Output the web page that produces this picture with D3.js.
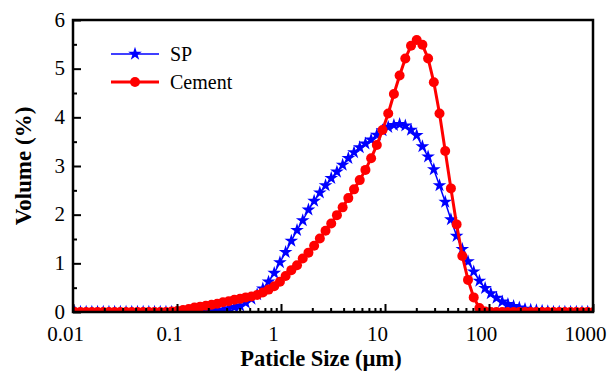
<!DOCTYPE html>
<html>
<head>
<meta charset="utf-8">
<script src="https://cdn.jsdelivr.net/npm/d3@7"></script>
<style>
  body { margin: 0; background: #fff; }
  svg { display: block; }
  text { font-family: "Liberation Serif", "Times New Roman", serif; fill: #000; }
</style>
</head>
<body>
<svg id="chart" width="607" height="376"></svg>
<script>
// particle size classes (µm)
const sizes = [
  0.0104, 0.0118, 0.01338, 0.01518, 0.01722, 0.01954, 0.02217, 0.02515, 0.02853, 0.03237,
  0.03673, 0.04167, 0.04727, 0.05363, 0.06084, 0.06902, 0.0783, 0.08884, 0.1008, 0.1143,
  0.1297, 0.1472, 0.167, 0.1894, 0.2149, 0.2438, 0.2766, 0.3138, 0.356, 0.4039,
  0.4581, 0.5197, 0.5896, 0.6689, 0.7589, 0.861, 0.9768, 1.108, 1.257, 1.426,
  1.618, 1.836, 2.083, 2.363, 2.681, 3.041, 3.45, 3.914, 4.441, 5.038,
  5.715, 6.484, 7.356, 8.345, 9.467, 10.74, 12.18, 13.82, 15.68, 17.79,
  20.18, 22.89, 25.97, 29.47, 33.43, 37.93, 43.03, 48.82, 55.38, 62.83,
  71.29, 80.87, 91.75, 104.1, 118.1, 134.0, 152.0, 172.4, 195.6, 221.9,
  251.8, 285.6, 324.1, 367.6, 417.1, 473.2, 536.8, 609.0, 690.9, 783.8,
  889.2, 1009
];

// volume (%) for SP
const spVolume = [
  0, 0, 0, 0, 0, 0, 0, 0, 0, 0,
  0, 0, 0, 0, 0, 0, 0, 0, 0, 0,
  0, 0, 0.01, 0.02, 0.03, 0.03, 0.04, 0.07, 0.10, 0.13,
  0.19, 0.27, 0.36, 0.48, 0.62, 0.80, 1.02, 1.23, 1.46, 1.68,
  1.88, 2.10, 2.28, 2.45, 2.60, 2.75, 2.88, 3.02, 3.16, 3.28,
  3.38, 3.46, 3.54, 3.64, 3.73, 3.80, 3.84, 3.86, 3.83, 3.74,
  3.63, 3.40, 3.19, 2.93, 2.60, 2.26, 1.90, 1.56, 1.29, 1.04,
  0.83, 0.64, 0.49, 0.38, 0.29, 0.21, 0.16, 0.12, 0.09, 0.06,
  0.04, 0.03, 0.02, 0.01, 0, 0, 0, 0, 0, 0,
  0, 0
];

// volume (%) for Cement
const cementVolume = [
  0, 0, 0, 0, 0, 0, 0, 0, 0, 0,
  0, 0, 0, 0, 0, 0, 0, 0.01, 0.02, 0.04,
  0.06, 0.09, 0.11, 0.13, 0.15, 0.17, 0.20, 0.22, 0.25, 0.27,
  0.30, 0.32, 0.35, 0.40, 0.46, 0.53, 0.62, 0.74, 0.86, 0.96,
  1.10, 1.22, 1.36, 1.51, 1.67, 1.82, 1.99, 2.15, 2.34, 2.52,
  2.71, 2.92, 3.16, 3.43, 3.74, 4.08, 4.48, 4.86, 5.21, 5.47,
  5.59, 5.49, 5.21, 4.72, 4.08, 3.31, 2.54, 1.80, 1.15, 0.66,
  0.30, 0.08, 0.01, 0, 0, 0, 0, 0, 0, 0,
  0, 0, 0, 0, 0, 0, 0, 0, 0, 0,
  0, 0
];

const xMajor = [0.01, 0.1, 1, 10, 100, 1000];
const xTickLabels = ["0.01", "0.1", "1", "10", "100", "1000"];
const yMajor = [0, 1, 2, 3, 4, 5, 6];
const yMinor = [0.5, 1.5, 2.5, 3.5, 4.5, 5.5];

const plotLeft = 73, plotRight = 593, plotTop = 20, plotBottom = 312;

const svg = d3.select("#chart");

const x = d3.scaleLog().domain([0.01, 1000]).range([plotLeft, plotRight]);
const y = d3.scaleLinear().domain([0, 6]).range([plotBottom, plotTop]);

// minor ticks for log axis (2..9 in every decade)
const xMinor = [];
for (let k = 0; k < xMajor.length - 1; k++) {
    for (let m = 2; m <= 9; m++) xMinor.push(xMajor[k] * m);
}

svg.append("clipPath").attr("id", "plotclip")
    .append("rect")
    .attr("x", plotLeft).attr("y", plotTop)
    .attr("width", plotRight - plotLeft).attr("height", plotBottom - plotTop);

const plot = svg.append("g").attr("clip-path", "url(#plotclip)");

const spData = sizes.map((d, i) => ({ d: d, v: spVolume[i] }));
const cementData = sizes.map((d, i) => ({ d: d, v: cementVolume[i] }));

const line = d3.line().x(p => x(p.d)).y(p => y(p.v));
const star = d3.symbol().type(d3.symbolStar).size(58);

// SP series
plot.append("path")
    .datum(spData)
    .attr("fill", "none")
    .attr("stroke", "#0000ff")
    .attr("stroke-width", 1.5)
    .attr("d", line);

plot.selectAll(".star")
    .data(spData)
    .enter()
    .append("path")
    .attr("class", "star")
    .attr("transform", p => "translate(" + x(p.d) + "," + y(p.v) + ")")
    .attr("d", star)
    .attr("fill", "#0000ff");

// Cement series
plot.append("path")
    .datum(cementData)
    .attr("fill", "none")
    .attr("stroke", "#ff0000")
    .attr("stroke-width", 3)
    .attr("d", line);

plot.selectAll(".dot")
    .data(cementData)
    .enter()
    .append("circle")
    .attr("class", "dot")
    .attr("cx", p => x(p.d))
    .attr("cy", p => y(p.v))
    .attr("r", 5)
    .attr("fill", "#ff0000");

// axes: ticks point inward
const tickStyle = g => {
    g.select(".domain").remove();
    g.selectAll("line").attr("stroke", "#000").attr("stroke-width", 2);
};

svg.append("g")
    .attr("transform", "translate(0," + plotBottom + ")")
    .call(d3.axisBottom(x).tickValues(xMajor).tickSize(-8).tickFormat(""))
    .call(tickStyle);

svg.append("g")
    .attr("transform", "translate(0," + plotBottom + ")")
    .call(d3.axisBottom(x).tickValues(xMinor).tickSize(-4).tickFormat(""))
    .call(tickStyle);

svg.append("g")
    .attr("transform", "translate(" + plotLeft + ",0)")
    .call(d3.axisLeft(y).tickValues(yMajor).tickSize(-8).tickFormat(""))
    .call(tickStyle);

svg.append("g")
    .attr("transform", "translate(" + plotLeft + ",0)")
    .call(d3.axisLeft(y).tickValues(yMinor).tickSize(-4).tickFormat(""))
    .call(tickStyle);

// tick labels
const xLab = svg.append("g")
    .attr("transform", "translate(0," + plotBottom + ")")
    .call(d3.axisBottom(x).tickValues(xMajor).tickSize(0).tickPadding(14)
        .tickFormat((d, i) => xTickLabels[i]));
xLab.select(".domain").remove();
xLab.selectAll("text")
    .attr("font-size", 21)
    .attr("dx", -8)
    .style("font-family", "Liberation Serif");

const yLab = svg.append("g")
    .attr("transform", "translate(" + plotLeft + ",0)")
    .call(d3.axisLeft(y).tickValues(yMajor).tickSize(0).tickPadding(8)
        .tickFormat(d3.format("d")));
yLab.select(".domain").remove();
yLab.selectAll("text")
    .attr("font-size", 21)
    .attr("dy", "0.3em")
    .style("font-family", "Liberation Serif");

// frame
svg.append("rect")
    .attr("x", plotLeft).attr("y", plotTop)
    .attr("width", plotRight - plotLeft).attr("height", plotBottom - plotTop)
    .attr("fill", "none")
    .attr("stroke", "#000")
    .attr("stroke-width", 2.5);

// axis titles
svg.append("text")
    .attr("x", 321).attr("y", 366)
    .attr("text-anchor", "middle")
    .attr("font-size", 22.5)
    .attr("font-weight", "bold")
    .text("Paticle Size (µm)");

svg.append("text")
    .attr("transform", "translate(31," + (plotTop + plotBottom) / 2 + ") rotate(-90)")
    .attr("text-anchor", "middle")
    .attr("font-size", 23)
    .attr("font-weight", "bold")
    .text("Volume (%)");

// legend
const legend = [
    { name: "SP", color: "#0000ff", kind: "star", width: 1.5, y: 54 },
    { name: "Cement", color: "#ff0000", kind: "circle", width: 3, y: 82 }
];

const lg = svg.selectAll(".legend")
    .data(legend)
    .enter()
    .append("g")
    .attr("class", "legend")
    .attr("transform", l => "translate(0," + l.y + ")");

lg.append("line")
    .attr("x1", 111).attr("x2", 159)
    .attr("stroke", l => l.color)
    .attr("stroke-width", l => l.width);

lg.each(function (l) {
    const g = d3.select(this);
    if (l.kind === "star") {
        g.append("path")
            .attr("transform", "translate(135,0)")
            .attr("d", star)
            .attr("fill", l.color);
    } else {
        g.append("circle")
            .attr("cx", 135).attr("r", 5)
            .attr("fill", l.color);
    }
});

lg.append("text")
    .attr("x", 170).attr("y", 7)
    .attr("font-size", 20)
    .text(l => l.name);
</script>
</body>
</html>
